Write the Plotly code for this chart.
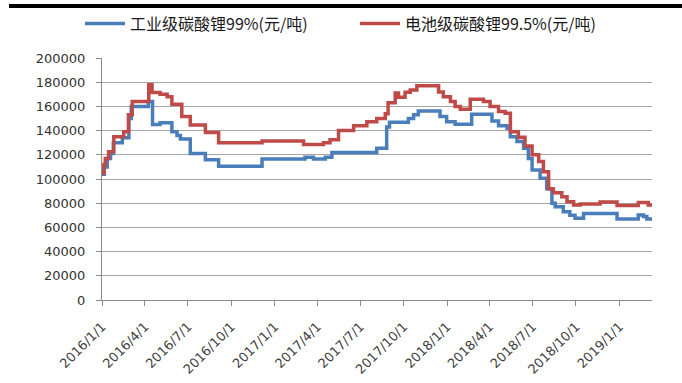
import plotly.graph_objects as go

# 工业级碳酸锂99% (元/吨) — price change dates and levels
ind_dates = [
    "2016-01-01", "2016-01-06", "2016-01-12", "2016-01-19", "2016-01-25", "2016-02-13",
    "2016-02-27", "2016-03-03", "2016-04-08", "2016-04-17", "2016-05-03", "2016-05-28",
    "2016-06-08", "2016-06-15", "2016-07-06", "2016-08-07", "2016-09-04", "2016-12-05",
    "2017-03-06", "2017-03-24", "2017-04-18", "2017-05-02", "2017-08-05", "2017-08-26",
    "2017-09-01", "2017-10-11", "2017-10-22", "2017-11-01", "2017-12-17", "2017-12-31",
    "2018-01-18", "2018-02-22", "2018-04-06", "2018-04-20", "2018-05-08", "2018-05-15",
    "2018-05-29", "2018-06-12", "2018-06-22", "2018-06-30", "2018-07-17", "2018-07-31",
    "2018-08-11", "2018-08-18", "2018-09-04", "2018-09-18", "2018-09-29", "2018-10-17",
    "2018-12-27", "2019-02-10", "2019-02-21", "2019-02-28", "2019-03-11",
]
ind_values = [
    104000, 110000, 117000, 121000, 130000, 134000,
    150000, 160000, 164000, 145000, 146500, 139000,
    136000, 133000, 121000, 116000, 110500, 116500,
    118000, 116500, 118000, 122000, 125400, 143000,
    147000, 150000, 153000, 156300, 151600, 147400,
    145200, 153500, 148000, 144000, 142000, 135000,
    131000, 125400, 117000, 107500, 100600, 92000,
    80000, 77000, 73000, 70000, 67500, 71500,
    67000, 70300, 69000, 67000, 67000,
]

# 电池级碳酸锂99.5% (元/吨)
bat_dates = [
    "2016-01-01", "2016-01-05", "2016-01-08", "2016-01-15", "2016-01-26", "2016-02-16",
    "2016-02-26", "2016-03-05", "2016-04-09", "2016-04-16", "2016-05-03", "2016-05-18",
    "2016-05-28", "2016-06-18", "2016-07-06", "2016-08-07", "2016-09-04", "2016-12-05",
    "2017-03-03", "2017-04-14", "2017-04-28", "2017-05-16", "2017-06-17", "2017-07-15",
    "2017-08-05", "2017-08-23", "2017-08-29", "2017-09-13", "2017-09-20", "2017-10-04",
    "2017-10-15", "2017-10-29", "2017-12-14", "2017-12-24", "2018-01-08", "2018-01-18",
    "2018-01-29", "2018-02-19", "2018-03-19", "2018-04-02", "2018-04-20", "2018-05-04",
    "2018-05-15", "2018-06-01", "2018-06-15", "2018-06-30", "2018-07-14", "2018-07-24",
    "2018-08-04", "2018-08-14", "2018-09-01", "2018-09-12", "2018-09-26", "2018-10-10",
    "2018-11-21", "2018-12-27", "2019-02-10", "2019-03-03", "2019-03-11",
]
bat_values = [
    104700, 112000, 117000, 122600, 135000, 139000,
    153000, 164000, 177800, 171500, 170000, 168000,
    161800, 151600, 144700, 138400, 130000, 131500,
    128500, 130000, 132500, 140000, 144000, 147400,
    150000, 154000, 163000, 171000, 167500, 171700,
    173600, 177000, 172000, 168000, 164000, 160000,
    157600, 166000, 164000, 160000, 155700, 154300,
    139000, 134500, 127300, 120000, 114400, 106000,
    92000, 88700, 85400, 81300, 78500, 79400,
    81000, 78200, 80500, 78500, 78500,
]

tick_dates = [
    "2016-01-01", "2016-04-01", "2016-07-01", "2016-10-01",
    "2017-01-01", "2017-04-01", "2017-07-01", "2017-10-01",
    "2018-01-01", "2018-04-01", "2018-07-01", "2018-10-01",
    "2019-01-01",
]
tick_labels = [
    "2016/1/1", "2016/4/1", "2016/7/1", "2016/10/1",
    "2017/1/1", "2017/4/1", "2017/7/1", "2017/10/1",
    "2018/1/1", "2018/4/1", "2018/7/1", "2018/10/1",
    "2019/1/1",
]

BLUE = "#4a7ebb"
RED = "#be4b48"
GRID = "#a6a6a6"
AXIS = "#8c8c8c"
CJK = "Noto Sans CJK SC"
NUM = "DejaVu Sans"

fig = go.Figure()
fig.add_trace(go.Scatter(
    x=ind_dates, y=ind_values, mode="lines", line_shape="hv",
    line=dict(color=BLUE, width=3.5),
    name="工业级碳酸锂99%(元/吨)", legend="legend",
))
fig.add_trace(go.Scatter(
    x=bat_dates, y=bat_values, mode="lines", line_shape="hv",
    line=dict(color=RED, width=3.5),
    name="电池级碳酸锂99.5%(元/吨)", legend="legend2",
))

legend_common = dict(
    xref="container", yref="container", xanchor="left", yanchor="middle",
    orientation="h", bgcolor="rgba(0,0,0,0)", borderwidth=0, itemwidth=40,
    font=dict(family=CJK, size=16, color="#1a1a1a"),
)

fig.update_layout(
    width=682, height=383,
    margin=dict(l=102, r=30, t=58, b=83, autoexpand=False),
    paper_bgcolor="white", plot_bgcolor="white",
    showlegend=True,
    legend=dict(x=80 / 682, y=1 - 23.5 / 383, **legend_common),
    legend2=dict(x=355 / 682, y=1 - 23.5 / 383, **legend_common),
    xaxis=dict(
        type="date", range=["2016-01-01", "2019-03-11"],
        tickmode="array", tickvals=tick_dates, ticktext=tick_labels,
        tickangle=-45, ticks="outside", ticklen=5, tickcolor=AXIS,
        ticklabelstandoff=8, automargin=False,
        showline=True, linecolor=AXIS, linewidth=1,
        showgrid=False, zeroline=False,
        tickfont=dict(family=NUM, size=13, color="#404040"),
    ),
    yaxis=dict(
        range=[0, 200000], tickmode="linear", tick0=0, dtick=20000,
        tickformat="d", ticks="outside", ticklen=5, tickcolor=AXIS,
        ticklabelstandoff=8, automargin=False,
        showline=True, linecolor=AXIS, linewidth=1,
        showgrid=True, gridcolor=GRID, gridwidth=1, zeroline=False,
        tickfont=dict(family=NUM, size=13, color="#333333"),
    ),
    shapes=[
        # heavy rule across the top of the panel
        dict(type="rect", xref="paper", yref="paper",
             x0=(9 - 102) / 550, x1=(682 - 102) / 550,
             y0=(300 - 8) / 242, y1=(300 - 4) / 242,
             fillcolor="black", line=dict(width=0), layer="above"),
    ],
)

fig.write_html("out.html")
